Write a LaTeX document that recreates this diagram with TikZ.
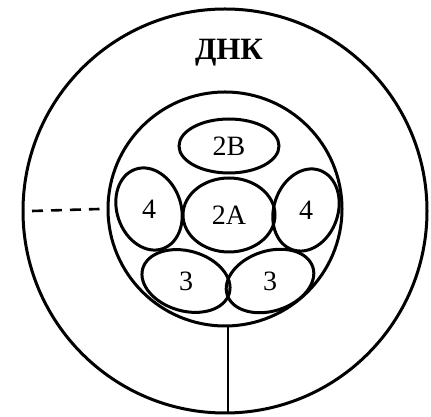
\documentclass[tikz,border=0pt]{standalone}
\usepackage{fontspec}
\setmainfont{Liberation Serif}
\usetikzlibrary{positioning}

\begin{document}
\begin{tikzpicture}[
    x=1pt, y=1pt,
    ring/.style={draw, line width=3pt, circle, inner sep=0pt},
    blob/.style={draw, line width=3pt},
    num/.style={font=\fontsize{28}{28}\selectfont, inner sep=0pt},
    lead/.style={line width=2.6pt}
]
\useasboundingbox (0,0) rectangle (431,417);

% -- outer and inner circles --
\node[ring, minimum size=404pt] (cell) at (225,206) {};
\node[ring, minimum size=234pt] (nucleus) at (225,208) {};

% -- title --
\node[font=\fontsize{31}{31}\selectfont\bfseries] (dnk) at (229,364) {ДНК};

% -- sub-units --
\coordinate (b2) at (229,271);
\coordinate (a2) at (229,202);
\coordinate (fourL) at (149,208);
\coordinate (fourR) at (306,207);
\coordinate (threeL) at (186,136);
\coordinate (threeR) at (270,136);

\draw[blob] (b2) ellipse [x radius=50, y radius=27];
\draw[blob] (a2) ellipse [x radius=46, y radius=37];
\draw[blob, rotate around={-71:(fourL)}] (fourL) ellipse [x radius=42, y radius=32];
\draw[blob, rotate around={71:(fourR)}] (fourR) ellipse [x radius=42, y radius=32];
\draw[blob, rotate around={-16:(threeL)}] (threeL) ellipse [x radius=45, y radius=30];
\draw[blob, rotate around={18:(threeR)}] (threeR) ellipse [x radius=45, y radius=30];

\node[num] (lb2) at (b2) {2B};
\node[num] (la2) at (a2) {2A};
\node[num] (lfourL) at (fourL) {4};
\node[num] (lfourR) at (fourR) {4};
\node[num] (lthreeL) at (threeL) {3};
\node[num] (lthreeR) at (threeR) {3};

% -- leads --
\coordinate (dashend) at (32,206);
\draw[lead, dash pattern=on 11pt off 8pt] (dashend) -- ([xshift=-7pt]nucleus.west);
\draw[lead] ([xshift=3pt]nucleus.south) -- ([xshift=3pt]cell.south);

\end{tikzpicture}
\end{document}
